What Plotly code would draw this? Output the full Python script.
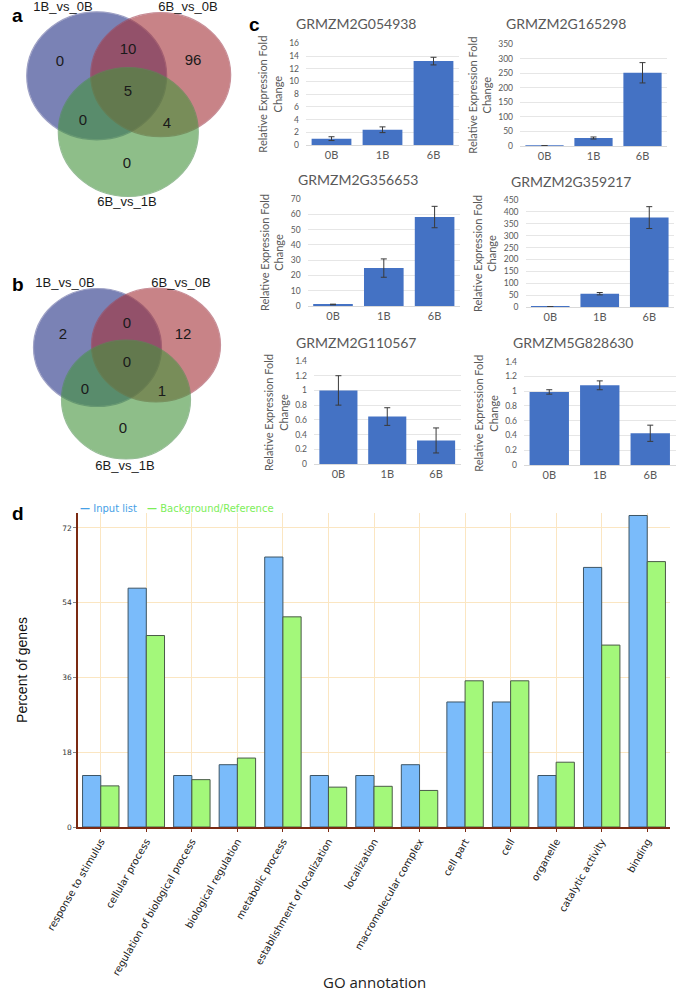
import plotly.graph_objects as go

W, H = 677, 992

# ---------------- data ----------------
venn_sets = ["1B_vs_0B", "6B_vs_0B", "6B_vs_1B"]
# region order: A only, A&B, B only, A&B&C, A&C, B&C, C only
venn_a_counts = [0, 10, 96, 5, 0, 4, 0]
venn_b_counts = [2, 0, 12, 0, 0, 1, 0]

conditions = ["0B", "1B", "6B"]
genes = ["GRMZM2G054938", "GRMZM2G165298", "GRMZM2G356653",
         "GRMZM2G359217", "GRMZM2G110567", "GRMZM5G828630"]
expr_054938 = [1.0, 2.4, 13.2]
err_054938 = [0.3, 0.45, 0.6]
expr_165298 = [1.0, 27.5, 252]
err_165298 = [None, 3.5, 35]
expr_356653 = [1.0, 24.8, 58.2]
err_356653 = [0.2, 6.0, 7.0]
expr_359217 = [1.0, 56, 376]
err_359217 = [None, 5, 46]
expr_110567 = [1.0, 0.645, 0.32]
err_110567 = [0.2, 0.12, 0.17]
expr_828630 = [0.99, 1.08, 0.43]
err_828630 = [0.03, 0.06, 0.11]
expr_values = [expr_054938, expr_165298, expr_356653, expr_359217, expr_110567, expr_828630]
expr_errors = [err_054938, err_165298, err_356653, err_359217, err_110567, err_828630]
expr_axis_max = [16, 350, 70, 450, 1.4, 1.4]
expr_axis_step = [2, 50, 10, 50, 0.2, 0.2]

go_terms = ["response to stimulus", "cellular process", "regulation of biological process",
            "biological regulation", "metabolic process", "establishment of localization",
            "localization", "macromolecular complex", "cell part", "cell", "organelle",
            "catalytic activity", "binding"]
input_list_pct = [12.4, 57.5, 12.4, 15.0, 65.0, 12.4, 12.4, 15.0, 30.1, 30.1, 12.4, 62.5, 75.0]
background_pct = [9.9, 46.1, 11.4, 16.6, 50.6, 9.6, 9.8, 8.8, 35.2, 35.2, 15.6, 43.8, 63.9]
go_ticks = [0, 18, 36, 54, 72]

# ---------------- layout helpers ----------------
def xd(a, b):
    return [a / W, b / W]

def yd(top, bottom):
    return [1 - bottom / H, 1 - top / H]

def px(x):
    return x / W

def py(y):
    return 1 - y / H

fig = go.Figure()
annotations = []
shapes = []

# ---------------- panel a / b : Venn ----------------
venn_layout = [
    dict(counts=venn_a_counts,
         circles=[(96.7, 75.8, 70, 64), (160.7, 74.7, 70, 62), (128.3, 132, 70, 64.5)],
         labels=[(63, 8), (188, 8), (127, 203)],
         regions=[(60, 62), (128, 50), (193, 61), (128, 92), (83, 121), (167, 124), (127, 164)]),
    dict(counts=venn_b_counts,
         circles=[(97.5, 347.5, 64, 59), (156, 345, 64.5, 57), (126, 399.5, 64.5, 59.5)],
         labels=[(65, 284), (181, 284), (125, 467)],
         regions=[(63, 335), (127, 324), (183, 335), (127, 363), (85, 390), (162, 392), (123, 429)]),
]
venn_fill = ["rgb(35,48,132)", "rgb(165,50,57)", "rgb(68,148,60)"]
venn_line = ["rgb(95,100,160)", "rgb(165,70,85)", "rgb(80,145,80)"]

for v in venn_layout:
    for (cx, cy, rx, ry), fc, lc in zip(v["circles"], venn_fill, venn_line):
        shapes.append(dict(type="circle", xref="x7", yref="y7",
                           x0=cx - rx, x1=cx + rx, y0=cy - ry, y1=cy + ry,
                           fillcolor=fc, opacity=0.6, line=dict(color=lc, width=1.2),
                           layer="below"))
    fig.add_trace(go.Scatter(
        x=[p[0] for p in v["regions"]], y=[p[1] for p in v["regions"]],
        text=[str(c) for c in v["counts"]], mode="text",
        textfont=dict(family="Liberation Sans, Arial", size=15, color="#1a1a1a"),
        xaxis="x7", yaxis="y7", hoverinfo="skip", cliponaxis=False))
    fig.add_trace(go.Scatter(
        x=[p[0] for p in v["labels"]], y=[p[1] for p in v["labels"]],
        text=venn_sets, mode="text",
        textfont=dict(family="Liberation Sans, Arial", size=13, color="#1a1a1a"),
        xaxis="x7", yaxis="y7", hoverinfo="skip", cliponaxis=False))

# ---------------- panel c : expression bars ----------------
c_x = [(306, 459), (520, 667), (307.6, 460), (525.5, 674), (314, 460.5), (524, 675.5)]
c_y = [(43.3, 145), (44.3, 146), (199, 306), (200, 307), (361, 464), (361.7, 465)]
c_title = [(356.7, 23), (566.7, 23), (358, 180), (571.7, 181), (356.7, 342), (573, 342)]
gray = "#595959"
cfont = "Lato, Open Sans, sans-serif"

layout_axes = {}
for i in range(6):
    n = "" if i == 0 else str(i + 1)
    fig.add_trace(go.Bar(
        x=conditions, y=expr_values[i],
        error_y=dict(type="data", array=expr_errors[i], visible=True,
                     color="#3a3a3a", thickness=1, width=3),
        marker=dict(color="#4472C4", line=dict(width=0)),
        xaxis="x" + n, yaxis="y" + n, width=0.78))
    layout_axes["xaxis" + n] = dict(
        domain=xd(*c_x[i]), anchor="y" + n, type="category", automargin=False,
        showline=True, linecolor="#d9d9d9", linewidth=1, ticks="",
        tickfont=dict(family=cfont, size=11, color=gray), showgrid=False)
    layout_axes["yaxis" + n] = dict(
        domain=yd(*c_y[i]), anchor="x" + n, range=[0, expr_axis_max[i]], automargin=False,
        dtick=expr_axis_step[i], tick0=0, showline=False, zeroline=False,
        gridcolor="#e6e6e6", gridwidth=1, ticklabelstandoff=6, ticks="",
        tickfont=dict(family=cfont, size=8.5, color=gray),
        title=dict(text="Relative Expression Fold<br>Change", standoff=4,
                   font=dict(family=cfont, size=11, color=gray)))
    annotations.append(dict(x=px(c_title[i][0]), y=py(c_title[i][1]), xref="paper", yref="paper",
                            text=genes[i], showarrow=False, xanchor="center", yanchor="middle",
                            font=dict(family=cfont, size=14, color=gray)))

# ---------------- panel d : GO bars ----------------
brown = "#7b2a12"
fig.add_trace(go.Bar(x=go_terms, y=input_list_pct, name="Input list",
                     marker=dict(color="rgb(122,187,250)", line=dict(color="#3d5566", width=1)),
                     xaxis="x8", yaxis="y8"))
fig.add_trace(go.Bar(x=go_terms, y=background_pct, name="Background/Reference",
                     marker=dict(color="rgb(163,248,122)", line=dict(color="#4a5a48", width=1)),
                     xaxis="x8", yaxis="y8"))
layout_axes["xaxis8"] = dict(
    domain=xd(78, 670), anchor="y8", type="category", showgrid=True, automargin=False,
    gridcolor="#fbe6c2", gridwidth=1, showline=True, linecolor=brown, linewidth=1.5,
    ticks="outside", ticklen=3, tickcolor=brown, tickangle=-60,
    tickfont=dict(family="DejaVu Sans, Verdana", size=10, color="#222"))
layout_axes["yaxis8"] = dict(
    domain=yd(513, 827), anchor="x8", range=[0, 75.6], tickvals=go_ticks, automargin=False,
    showgrid=True, gridcolor="#fbe6c2", gridwidth=1, zeroline=False,
    showline=True, linecolor=brown, linewidth=1.5, ticks="outside", ticklen=3,
    tickcolor="#888", tickfont=dict(family="DejaVu Sans, Verdana", size=7.5, color="#333"),
    title=dict(text="Percent of genes", standoff=31,
               font=dict(family="Liberation Sans, Arial", size=14, color="#111")))

# x-axis title of panel d
annotations.append(dict(x=px(374), y=py(982), xref="paper", yref="paper", xanchor="center",
                        yanchor="middle", text="GO annotation", showarrow=False,
                        font=dict(family="Open Sans, Liberation Sans", size=15, color="#222")))

# venn coordinate axes (pixel space)
layout_axes["xaxis7"] = dict(domain=xd(0, 240), range=[0, 240], visible=False, anchor="y7",
                             automargin=False)
layout_axes["yaxis7"] = dict(domain=yd(0, 500), range=[500, 0], visible=False, anchor="x7",
                             automargin=False)

# legend (panel d) as text
annotations.append(dict(x=px(78), y=py(508), xref="paper", yref="paper", xanchor="left",
                        text="<b>\u2014</b> Input list", showarrow=False,
                        font=dict(family="DejaVu Sans, Verdana", size=10, color="rgb(70,160,230)")))
annotations.append(dict(x=px(145), y=py(508), xref="paper", yref="paper", xanchor="left",
                        text="<b>\u2014</b> Background/Reference", showarrow=False,
                        font=dict(family="DejaVu Sans, Verdana", size=10, color="rgb(125,238,90)")))

# panel letters
for letter, (lx, ly) in zip("abcd", [(10, 16), (10, 284), (247, 25), (10, 513)]):
    annotations.append(dict(x=px(lx), y=py(ly), xref="paper", yref="paper", xanchor="left",
                            yanchor="middle", text="<b>%s</b>" % letter, showarrow=False,
                            font=dict(family="Liberation Sans, Arial", size=19, color="#000")))

fig.update_layout(template="none", width=W, height=H, margin=dict(l=0, r=0, t=0, b=0, pad=0),
                  paper_bgcolor="white", plot_bgcolor="white", showlegend=False,
                  barmode="group", bargap=0.2, bargroupgap=0,
                  shapes=shapes, annotations=annotations, **layout_axes)

fig.write_html("out.html", config={"displayModeBar": False},
               post_script="document.body.style.margin='0';document.body.style.padding='0';")
